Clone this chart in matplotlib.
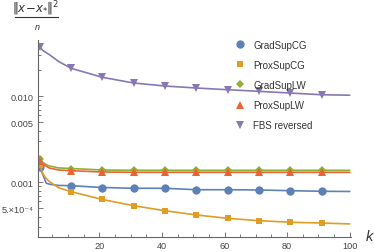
import matplotlib
matplotlib.use('Agg')
import matplotlib.pyplot as plt
from matplotlib.lines import Line2D
from matplotlib.ticker import FixedLocator, FixedFormatter, MultipleLocator, NullFormatter

plt.rcParams['font.family'] = ['Liberation Sans', 'DejaVu Sans']
plt.rcParams['mathtext.fontset'] = 'dejavusans'

# iteration index samples
k = [1, 2, 3, 4, 7, 11, 21, 31, 41, 51, 61, 71, 81, 91, 100]
grad_sup_cg = [0.001494, 0.001216, 0.00098, 0.00095, 0.00092, 0.000913, 0.00087, 0.000852,
               0.000852, 0.00082, 0.00082, 0.000814, 0.000799, 0.000786, 0.000782]
prox_sup_cg = [0.001589, 0.001249, 0.00111, 0.00102, 0.000865, 0.000777, 0.000631, 0.000534,
               0.000467, 0.000417, 0.000381, 0.000358, 0.000343, 0.000336, 0.000328]
grad_sup_lw = [0.001866, 0.00170, 0.00161, 0.00155, 0.00147, 0.001447, 0.00139, 0.001379,
               0.001379, 0.001379, 0.001379, 0.001379, 0.001379, 0.001379, 0.001378]
prox_sup_lw = [0.001783, 0.001632, 0.00154, 0.001467, 0.00139, 0.001364, 0.001318, 0.001307,
               0.001307, 0.001307, 0.001307, 0.001307, 0.001307, 0.001307, 0.001306]
fbs_reversed = [0.03715, 0.0341, 0.0322, 0.0306, 0.0254, 0.02116, 0.01663, 0.01428,
                0.01318, 0.01249, 0.01194, 0.01143, 0.01092, 0.01044, 0.0103]

labels = ['GradSupCG', 'ProxSupCG', 'GradSupLW', 'ProxSupLW', 'FBS reversed']
colors = ['#5E81B5', '#E19C24', '#8FB032', '#EB6235', '#8778B3']
markers = ['o', 's', 'D', '^', 'v']
msizes = [6.0, 4.3, 3.6, 5.6, 5.2]

y_major = [0.0005, 0.001, 0.005, 0.010]
y_major_labels = ['5.\u00d710\u207b\u2074', '0.001', '0.005', '0.010']
y_minor = [0.0003, 0.0004, 0.0006, 0.0007, 0.0008, 0.0009, 0.002, 0.003, 0.004,
           0.006, 0.007, 0.008, 0.009, 0.02, 0.03, 0.04]
x_major = [20, 40, 60, 80, 100]

W, H = 374, 253
fig = plt.figure(figsize=(W / 100, H / 100), dpi=100)
left, right, bottom, top = 38, 351.3, 238, 41
ax = fig.add_axes([left / W, 1 - bottom / H, (right - left) / W, (bottom - top) / H])

series = [grad_sup_cg, prox_sup_cg, grad_sup_lw, prox_sup_lw, fbs_reversed]
mark_idx = [i for i, kk in enumerate(k) if (kk - 1) % 10 == 0 and kk <= 91]
handles = []
for ys, lab, c, m, ms in zip(series, labels, colors, markers, msizes):
    ax.plot(k, ys, color=c, lw=1.2, marker=m, ms=ms, markevery=mark_idx,
            markeredgewidth=0, solid_capstyle='round')
    handles.append(Line2D([], [], color=c, marker=m, ms=ms, lw=0, markeredgewidth=0, label=lab))

ax.set_yscale('log')
ax.set_xlim(0.4, 100.5)
ax.set_ylim(2.311e-4, 0.0452)

ax.yaxis.set_major_locator(FixedLocator(y_major))
ax.yaxis.set_major_formatter(FixedFormatter(y_major_labels))
ax.yaxis.set_minor_locator(FixedLocator(y_minor))
ax.yaxis.set_minor_formatter(NullFormatter())
ax.xaxis.set_major_locator(FixedLocator(x_major))
ax.xaxis.set_minor_locator(MultipleLocator(5))

axis_col = '#666666'
for s in ['top', 'right']:
    ax.spines[s].set_visible(False)
for s in ['left', 'bottom']:
    ax.spines[s].set_color(axis_col)
    ax.spines[s].set_linewidth(0.8)
ax.tick_params(which='both', direction='in', color=axis_col, labelcolor='#444444',
               labelsize=6.6, width=0.6)
ax.tick_params(which='major', length=3.5, pad=3)
ax.tick_params(which='minor', length=2)
ax.patch.set_alpha(0)

leg = ax.legend(handles=handles, loc='upper left', bbox_to_anchor=(230 / W, 1 - 36 / H),
                bbox_transform=fig.transFigure, frameon=False, fontsize=7,
                handlelength=1.0, handletextpad=0.9, labelspacing=1.03, borderpad=0)
for t in leg.get_texts():
    t.set_color('#333333')

# axis labels
fig.text(36 / W, 1 - 9 / H, r'$\Vert x\!-\!x_{*}\Vert^{2}$', ha='center', va='center',
         fontsize=8.5, color='#333333')
fig.add_artist(Line2D([15 / W, 58 / W], [1 - 17.5 / H, 1 - 17.5 / H], color='#333333', lw=0.8))
fig.text(37.5 / W, 1 - 28 / H, 'n', ha='center', va='center', fontsize=6.5,
         color='#333333', fontstyle='italic')
fig.text(369 / W, 1 - 237 / H, 'k', ha='center', va='center', fontsize=10.5,
         color='#333333', fontstyle='italic')

fig.savefig('out.png', dpi=100)
